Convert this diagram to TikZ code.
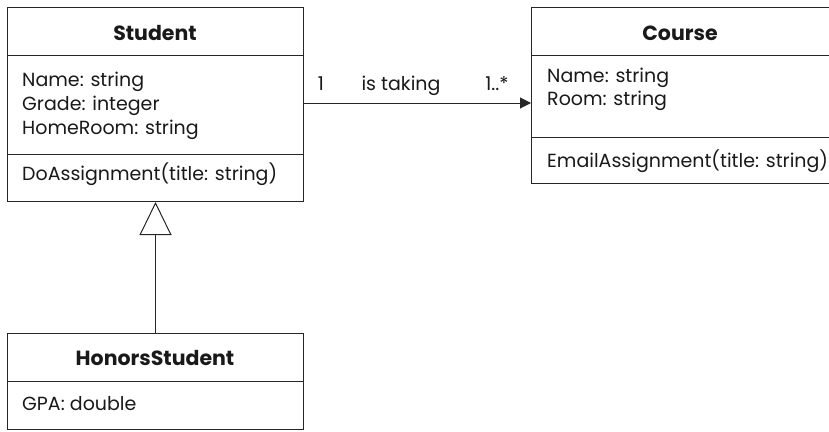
\documentclass[tikz,border=0pt]{standalone}
\usepackage{fontspec}
\setmainfont{Poppins}
\usetikzlibrary{arrows.meta}
\tikzset{
  part/.style={draw=black!85, line width=1pt, anchor=north west, inner sep=0pt},
  title/.style={font=\fontsize{20.5}{24}\selectfont\bfseries, anchor=base, inner sep=0pt, text=black!90},
  attr/.style={font=\fontsize{19}{24}\selectfont, anchor=base west, inner sep=0pt, text=black!90},
  lbl/.style={font=\fontsize{19}{24}\selectfont, anchor=base, inner sep=0pt, text=black!90},
  conn/.style={draw=black!85, line width=1pt}
}
\begin{document}
\begin{tikzpicture}[x=1pt,y=-1pt]
\useasboundingbox (0,0) rectangle (829,431);
% Student
\node[part, minimum width=296pt, minimum height=48pt] (stuH) at (7,7) {};
\node[part, minimum width=296pt, minimum height=99pt] (stuA) at (7,55) {};
\node[part, minimum width=296pt, minimum height=47pt] (stuO) at (7,154) {};
\node[title] (stuT) at (155,40) {Student};
\node[attr] (stuA1) at (22,86) {Name: string};
\node[attr] (stuA2) at (22,110) {Grade: integer};
\node[attr] (stuA3) at (22,134) {HomeRoom: string};
\node[attr] (stuO1) at (22,180) {DoAssignment(title: string)};
% Course
\node[part, minimum width=310pt, minimum height=48pt] (crsH) at (531,7) {};
\node[part, minimum width=310pt, minimum height=82pt] (crsA) at (531,55) {};
\node[part, minimum width=310pt, minimum height=46pt] (crsO) at (531,137) {};
\node[title] (crsT) at (680,40) {Course};
\node[attr] (crsA1) at (547,82) {Name: string};
\node[attr] (crsA2) at (547,105) {Room: string};
\node[attr] (crsO1) at (547,167) {EmailAssignment(title: string)};
% HonorsStudent
\node[part, minimum width=296pt, minimum height=48pt] (honH) at (7,333) {};
\node[part, minimum width=296pt, minimum height=48pt] (honA) at (7,381) {};
\node[title] (honT) at (155,365) {HonorsStudent};
\node[attr] (honA1) at (22,410) {GPA: double};
% association
\coordinate (asA) at (stuA.east |- 0,103);
\coordinate (asB) at (crsA.west |- 0,103);
\draw[conn, -{Triangle[length=11pt,width=11pt]}] (asA) -- (asB);
\node[lbl] (m1) at (321,90) {1};
\node[lbl] (nm) at (401,90) {is taking};
\node[lbl] (m2) at (497,90) {1..*};
% generalization
\draw[conn, -{Triangle[open,length=33pt,width=32pt,fill=white]}] (honH.north) -- (stuO.south);
\end{tikzpicture}
\end{document}
